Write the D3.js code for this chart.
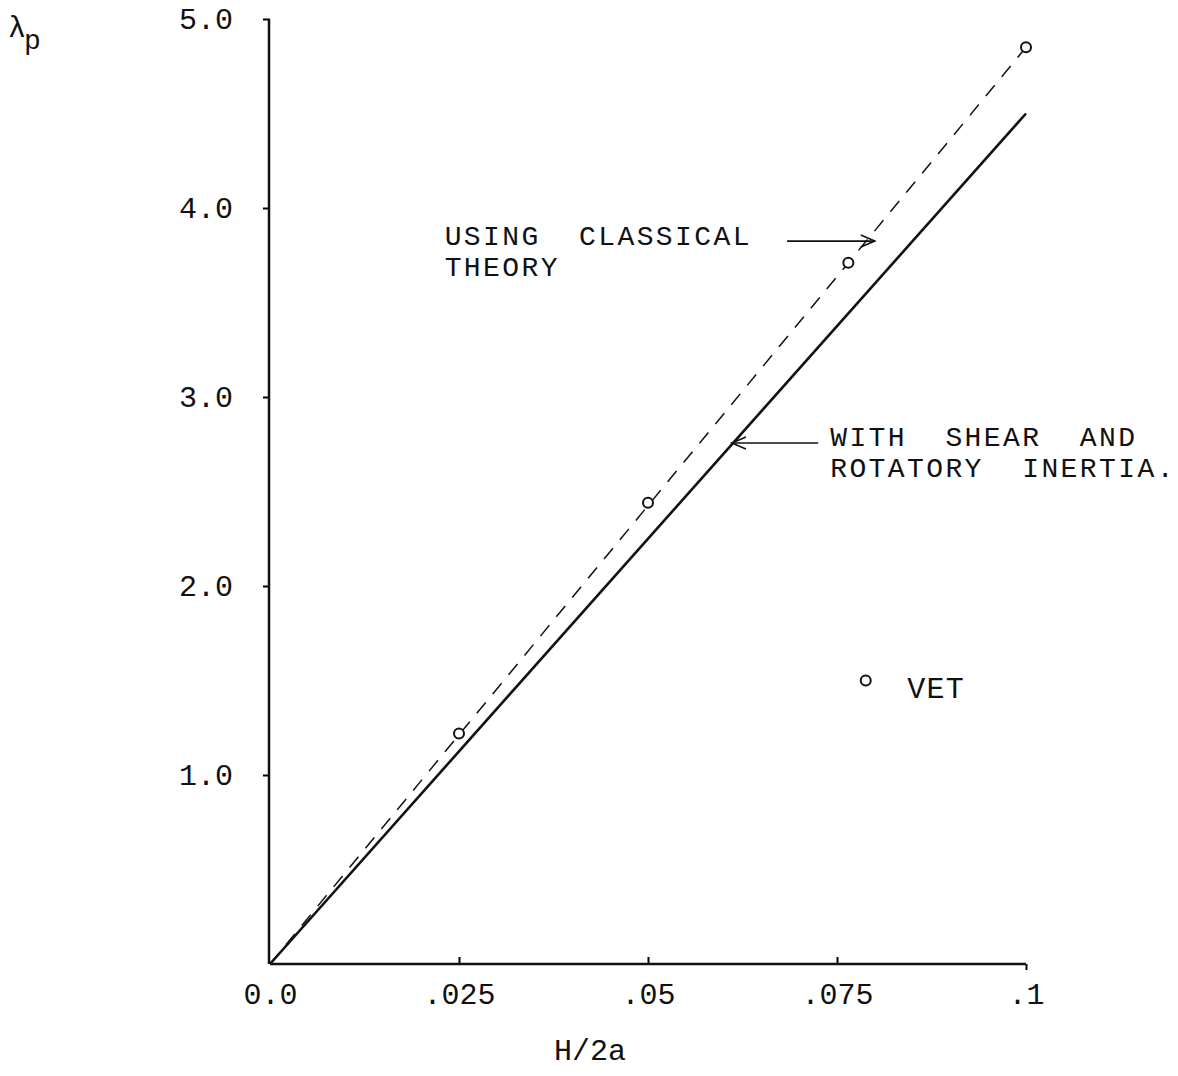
<!DOCTYPE html>
<html>
<head>
<meta charset="utf-8">
<script src="https://d3js.org/d3.v7.min.js"></script>
<style>
  body { margin: 0; background: #fff; }
  text { font-family: "Liberation Mono", "DejaVu Sans Mono", monospace; fill: #111; }
</style>
</head>
<body>
<script>
// tick values and labels
var xTicks = [0, 0.025, 0.05, 0.075, 0.1];
var xTickLabels = ["0.0", ".025", ".05", ".075", ".1"];
var yTicks = [1, 2, 3, 4, 5];
var yTickLabels = ["1.0", "2.0", "3.0", "4.0", "5.0"];

// curves (H/2a, lambda_p)
var shearLine = [[0, 0], [0.1, 4.5]];
var classicalLine = [[0, 0], [0.1, 4.85]];
// VET points
var vetX = [0.025, 0.05, 0.0765, 0.1];
var vetY = [1.22, 2.44, 3.71, 4.85];

var width = 1178, height = 1076;
var x = d3.scaleLinear().domain([0, 0.1]).range([270, 1026]);
var y = d3.scaleLinear().domain([0, 5]).range([964, 19]);

var svg = d3.select("body").append("svg")
    .attr("width", width)
    .attr("height", height);

// x axis
var gx = svg.append("g")
    .attr("transform", "translate(0," + y(0) + ")")
    .call(d3.axisBottom(x)
        .tickValues(xTicks)
        .tickSize(-7)
        .tickPadding(19)
        .tickFormat(function (d, i) { return xTickLabels[i]; }));
gx.select(".domain").remove();
gx.selectAll(".tick line").attr("stroke-width", 2)
    .filter(function (d) { return d === 0; }).remove();
gx.selectAll(".tick line").filter(function (d) { return d === 0.1; }).attr("y2", 6);
gx.selectAll("text").style("font-size", "30px").attr("fill", "#111");

// y axis
var gy = svg.append("g")
    .attr("transform", "translate(" + x(0) + ",0)")
    .call(d3.axisLeft(y)
        .tickValues(yTicks)
        .tickSize(7)
        .tickPadding(30)
        .tickFormat(function (d, i) { return yTickLabels[i]; }));
gy.select(".domain").remove();
gy.selectAll(".tick line").attr("stroke-width", 2);
gy.selectAll("text").style("font-size", "30px").attr("fill", "#111");

svg.append("line")
    .attr("x1", x(0)).attr("x2", x(0.1))
    .attr("y1", y(0)).attr("y2", y(0))
    .attr("stroke", "#111").attr("stroke-width", 2.5);
svg.append("line")
    .attr("x1", x(0) - 1).attr("x2", x(0) - 1)
    .attr("y1", y(0)).attr("y2", y(5))
    .attr("stroke", "#111").attr("stroke-width", 2.5);

var line = d3.line()
    .x(function (d) { return x(d[0]); })
    .y(function (d) { return y(d[1]); });

svg.append("path")
    .datum(shearLine)
    .attr("d", line)
    .attr("fill", "none")
    .attr("stroke", "#111")
    .attr("stroke-width", 2.6);

svg.append("path")
    .datum(classicalLine)
    .attr("d", line)
    .attr("fill", "none")
    .attr("stroke", "#111")
    .attr("stroke-width", 1.5)
    .attr("stroke-dasharray", "14,11");

svg.selectAll("circle.vet")
    .data(vetX)
    .enter().append("circle")
    .attr("class", "vet")
    .attr("cx", function (d) { return x(d); })
    .attr("cy", function (d, i) { return y(vetY[i]); })
    .attr("r", 5)
    .attr("fill", "#fff")
    .attr("stroke", "#111")
    .attr("stroke-width", 2);

// legend
svg.append("circle")
    .attr("cx", x(0.0788)).attr("cy", y(1.5))
    .attr("r", 5)
    .attr("fill", "#fff").attr("stroke", "#111").attr("stroke-width", 2);
svg.append("text")
    .attr("x", x(0.0843)).attr("y", y(1.405))
    .style("font-size", "30px")
    .style("letter-spacing", "1.2px")
    .text("VET");

// annotations, one text per line
function annot(lines, px, py) {
    lines.forEach(function (s, i) {
        svg.append("text")
            .attr("x", x(px)).attr("y", y(py) + i * 31)
            .style("font-size", "28px")
            .style("letter-spacing", "2.4px")
            .style("white-space", "pre")
            .text(s);
    });
}
annot(["USING  CLASSICAL", "THEORY"], 0.0231, 3.804);
annot(["WITH  SHEAR  AND", "ROTATORY  INERTIA."], 0.0741, 2.74);

function arrow(x1, x2, yv) {
    var X1 = x(x1), X2 = x(x2), Y = y(yv);
    var dir = X2 > X1 ? 1 : -1;
    svg.append("line")
        .attr("x1", X1).attr("x2", X2).attr("y1", Y).attr("y2", Y)
        .attr("stroke", "#111").attr("stroke-width", 1.6);
    svg.append("path")
        .attr("d", "M" + (X2 - dir * 14) + "," + (Y - 6) + "L" + X2 + "," + Y + "L" + (X2 - dir * 14) + "," + (Y + 6))
        .attr("fill", "none").attr("stroke", "#111").attr("stroke-width", 1.6);
}
arrow(0.0684, 0.0800, 3.825);
arrow(0.0725, 0.0611, 2.757);

// axis titles
var lam = svg.append("text").attr("x", 8).attr("y", 37).style("font-size", "30px");
lam.append("tspan").text("λ");
lam.append("tspan").attr("dy", 12).attr("dx", -2).style("font-size", "28px").text("p");

svg.append("text")
    .attr("x", 590).attr("y", 1060)
    .attr("text-anchor", "middle")
    .style("font-size", "30px")
    .text("H/2a");
</script>
</body>
</html>
